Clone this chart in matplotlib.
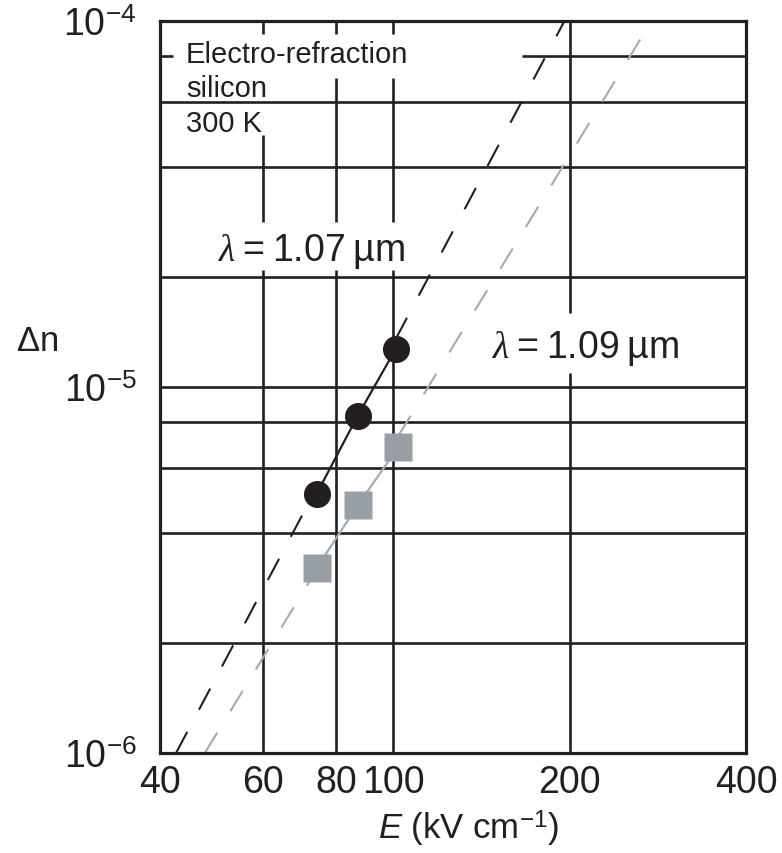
import matplotlib
matplotlib.use('Agg')

import numpy as np
import matplotlib.pyplot as plt
from matplotlib.ticker import NullLocator

plt.rcParams['font.family'] = ['Liberation Sans', 'DejaVu Sans']
plt.rcParams['mathtext.fontset'] = 'custom'
plt.rcParams['mathtext.rm'] = 'Liberation Sans'
plt.rcParams['mathtext.it'] = 'Liberation Serif:italic'
plt.rcParams['mathtext.sf'] = 'Liberation Sans:italic'

# Measured points (field in kV/cm, index change)
E_107 = [74, 87, 101]
dn_107 = [5.1e-6, 8.35e-6, 1.27e-5]
E_109 = [74, 87, 102]
dn_109 = [3.2e-6, 4.75e-6, 6.85e-6]

# Power-law fits, given by their end points on the frame
fit_E_107 = [42.6, 196.0]
fit_dn_107 = [1e-6, 1e-4]
fit_E_109 = [47.7, 276.0]
fit_dn_109 = [1e-6, 1e-4]

x_ticks = [40, 60, 80, 100, 200, 400]
x_ticklabels = ['40', '60', '80', '100', '200', '400']
y_ticks = [1e-6, 1e-5, 1e-4]
y_ticklabels = [r'$10^{-6}$', r'$10^{-5}$', r'$10^{-4}$']

grid_x = [60, 80, 100, 200]
grid_y = [2e-6, 4e-6, 6e-6, 8e-6, 1e-5, 2e-5, 4e-5, 6e-5, 8e-5]

ink = '#231f20'
grey_mark = '#989fa6'
grey_line = '#a6aaae'

fig = plt.figure(figsize=(7.82, 8.54), dpi=100)
ax = fig.add_axes([160 / 782, 100 / 854, 586 / 782, 732 / 854])
ax.set_xscale('log')
ax.set_yscale('log')
ax.set_xlim(40, 400)
ax.set_ylim(1e-6, 1e-4)


def spans(lo, hi, gaps):
    """Pieces of [lo, hi] left after cutting out the gaps."""
    out, start = [], lo
    for a, b in sorted(gaps):
        out.append((start, a))
        start = b
    out.append((start, hi))
    return out


def fit_at(E, fit_E, fit_dn):
    """Value of a straight log-log fit line at field E."""
    return 10 ** np.interp(np.log10(E), np.log10(fit_E), np.log10(fit_dn))


def draw_fit(fit_E, fit_dn, E_data, color):
    # dashed only outside the measured range, the solid line covers the rest
    for a, b in [(fit_E[0], E_data[0]), (E_data[-1], fit_E[1])]:
        ax.plot([a, b], [fit_at(a, fit_E, fit_dn), fit_at(b, fit_E, fit_dn)],
                color=color, lw=1.5, dashes=(11.5, 12), zorder=2)


# grid lines are broken where the labels sit on them
v_gaps = {
    60: [(4.87e-5, 9.2e-5), (2.09e-5, 2.83e-5)],
    80: [(7.0e-5, 9.2e-5), (2.09e-5, 2.83e-5)],
    100: [(7.0e-5, 9.2e-5), (2.09e-5, 2.83e-5)],
    200: [(1.09e-5, 1.59e-5)],
}
h_gaps = {8e-5: [(42.1, 166)]}

for x in grid_x:
    for a, b in spans(1e-6, 1e-4, v_gaps.get(x, [])):
        ax.vlines(x, a, b, color=ink, lw=1.9, zorder=1)
for y in grid_y:
    for a, b in spans(40, 400, h_gaps.get(y, [])):
        ax.hlines(y, a, b, color=ink, lw=1.9, zorder=1)

# fitted slopes
draw_fit(fit_E_107, fit_dn_107, E_107, ink)
draw_fit(fit_E_109, fit_dn_109, E_109, grey_line)

# data
ax.plot(E_107, dn_107, '-', color=ink, lw=1.6, marker='o', ms=19.5,
        mec='none', mfc=ink, zorder=3)
ax.plot(E_109, dn_109, '-', color=grey_line, lw=1.6, marker='s', ms=20,
        mec='none', mfc=grey_mark, zorder=3)

# annotations
ax.text(44.3, 7.75e-5, 'Electro-refraction', fontsize=21, color=ink,
        ha='left', va='baseline', zorder=4)
ax.text(44.3, 6.24e-5, 'silicon', fontsize=21, color=ink,
        ha='left', va='baseline', zorder=4)
ax.text(44.3, 5.02e-5, '300 K', fontsize=21, color=ink,
        ha='left', va='baseline', zorder=4)
ax.text(50.2, 2.23e-5, '$\\lambda$\u2009=\u20091.07\u2009µm', fontsize=27,
        color=ink, ha='left', va='baseline', zorder=4)
ax.text(147.3, 1.21e-5, '$\\lambda$\u2009=\u20091.09\u2009µm', fontsize=27,
        color=ink, ha='left', va='baseline', zorder=4)

# axes
ax.xaxis.set_minor_locator(NullLocator())
ax.yaxis.set_minor_locator(NullLocator())
ax.set_xticks(x_ticks)
ax.set_xticklabels(x_ticklabels)
ax.set_yticks(y_ticks)
ax.set_yticklabels(y_ticklabels)
ax.tick_params(axis='x', length=0, pad=8, labelsize=27, colors=ink)
ax.tick_params(axis='y', length=0, pad=17, labelsize=27, colors=ink)
for s in ax.spines.values():
    s.set_linewidth(2.3)
    s.set_color(ink)

ax.set_xlabel(r'$\mathsf{E}$ (kV cm$^{-1}$)', fontsize=25, color=ink)
ax.xaxis.set_label_coords(0.527, -0.075, transform=ax.transAxes)
ax.xaxis.label.set_va('top')
fig.text(37 / 782, 1 - 342 / 854, r'$\Delta$n', fontsize=25, color=ink,
         ha='center', va='center')

fig.savefig('out.png', dpi=100)
